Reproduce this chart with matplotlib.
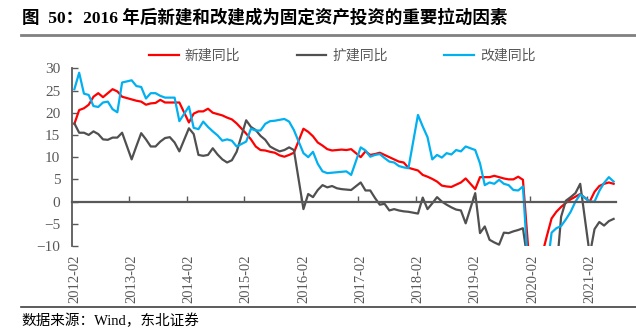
import numpy as np
import pandas as pd
import matplotlib as mpl
mpl.use('Agg')
import matplotlib.pyplot as plt
from matplotlib.lines import Line2D

plt.rcParams['font.family'] = ['Liberation Serif', 'Noto Sans CJK SC']

# monthly cumulative yoy, Feb..Dec each year (no January data)
dates = pd.date_range('2012-02-01', '2021-07-01', freq='MS')
dates = dates[dates.month != 1]

xinjian = [
    17.5, 20.6, 21.0, 21.8, 23.6, 24.4, 23.5, 24.4, 25.3, 24.8, 23.6,  # 2012
    23.0, 22.7, 22.5, 21.8, 22.1, 22.2, 22.9, 22.3, 22.3, 22.3, 22.3,  # 2013
    17.8, 19.8, 20.3, 20.3, 20.9, 20.0, 19.7, 19.4, 18.9, 18.5, 17.6,  # 2014
    15.3, 14.0, 12.4, 11.6, 11.5, 11.2, 11.0, 10.4, 10.1, 10.5, 11.0,  # 2015
    16.4, 15.7, 14.7, 13.3, 12.6, 11.8, 11.5, 11.6, 11.7, 11.6, 11.8,  # 2016
    10.0, 11.3, 10.5, 10.7, 11.0, 10.5, 10.0, 9.5, 9.0, 8.8, 7.6,      # 2017
    7.0, 6.0, 5.6, 5.1, 4.5, 3.6, 3.4, 3.3, 3.8, 4.3, 5.2,             # 2018
    2.8, 5.5, 5.5, 5.5, 5.8, 5.5, 5.2, 5.0, 5.0, 5.6, 4.9,             # 2019
    -23.0, -17.0, -12.0, -7.8, -3.8, -2.3, -1.2, -0.3, 0.5, 1.1, 1.7,  # 2020
    0.0, 2.2, 3.5, 4.0, 4.3, 4.0,                                      # 2021
]
kuojian = [
    17.6, 15.5, 15.5, 15.0, 15.8, 15.2, 14.0, 13.9, 14.4, 14.4, 15.5,
    9.5, 12.5, 15.4, 14.0, 12.4, 12.4, 13.5, 14.3, 14.5, 13.3, 11.3,
    16.5, 15.2, 10.5, 10.3, 10.5, 12.0, 10.6, 9.5, 8.8, 9.3, 11.2,
    18.3, 16.8, 16.1, 14.8, 13.9, 12.4, 11.8, 11.3, 11.6, 12.2, 11.6,
    -1.7, 1.7, 1.0, 2.6, 3.7, 3.2, 3.5, 3.0, 2.8, 2.7, 2.6,
    4.3, 2.5, 2.5, 0.8, -0.7, -0.5, -2.0, -1.7, -2.0, -2.2, -2.3,
    -2.7, 0.9, -1.7, -0.4, 1.0, 0.0, -0.7, -1.3, -1.8, -2.0, -4.9,
    1.9, -7.1, -5.6, -8.6, -9.2, -9.7, -7.0, -7.1, -6.7, -6.4, -6.0,
    -21.0, -25.0, -22.0, -19.0, -17.0, -16.0, -3.4, 0.2, 1.0, 1.9, 4.0,
    -12.0, -6.2, -4.6, -5.4, -4.4, -3.9,
]
gaijian = [
    25.3, 29.0, 24.3, 24.0, 21.5, 21.3, 22.3, 22.5, 20.8, 20.1, 26.8,
    27.3, 26.0, 25.8, 23.2, 24.4, 24.4, 23.8, 23.4, 23.4, 23.4, 18.1,
    21.4, 16.6, 16.3, 18.0, 16.8, 15.8, 14.9, 13.7, 14.0, 13.7, 12.4,
    13.5, 16.4, 16.0, 16.0, 17.5, 18.1, 18.2, 18.4, 18.6, 18.0, 16.1,
    10.9, 10.0, 11.2, 8.5, 6.8, 6.4, 6.5, 6.6, 6.7, 6.8, 6.0,
    12.2, 11.5, 10.1, 10.5, 10.7, 9.8, 9.0, 8.8, 8.0, 7.7, 7.5,
    19.5, 16.9, 14.5, 9.5, 10.5, 9.9, 10.9, 10.6, 11.6, 11.3, 12.4,
    11.6, 8.6, 3.7, 4.3, 4.0, 4.9, 4.0, 3.7, 2.6, 2.5, 3.4,
    -31.0, -24.0, -20.0, -15.8, -7.0, -6.0, -5.5, -4.0, -2.3, 0.0, 1.6,
    0.0, 0.0, 2.4, 4.2, 5.5, 4.5,
]
series_names = ['新建同比', '扩建同比', '改建同比']
tick_labels = ['2012-02', '2013-02', '2014-02', '2015-02', '2016-02',
               '2017-02', '2018-02', '2019-02', '2020-02', '2021-02']

# x position = months since 2012-02 (date axis, gaps at January)
pos = (dates.year - 2012) * 12 + dates.month - 2
tick_pos = [(int(s[:4]) - 2012) * 12 for s in tick_labels]

grey = '#595959'
fig = plt.figure(figsize=(6.36, 3.32), dpi=100)
ax = fig.add_axes([72/636, 1-246/332, (616-72)/636, (246-68.3)/332])

l1, = ax.plot(pos, xinjian, color='#FF0000', lw=1.6)
l2, = ax.plot(pos, kuojian, color='#505050', lw=1.6)
l3, = ax.plot(pos, gaijian, color='#00B0F0', lw=1.6)

ax.set_xlim(-0.5, 113.5)
ax.set_ylim(-10, 30)
ax.set_yticks(range(-10, 31, 5))
for s in ['top', 'right']:
    ax.spines[s].set_visible(False)
ax.spines['left'].set_color(grey)
ax.spines['left'].set_linewidth(1.3)
ax.spines['bottom'].set_position(('data', 0))
ax.spines['bottom'].set_color(grey)
ax.spines['bottom'].set_linewidth(1.6)
ax.tick_params(axis='y', direction='in', length=4, width=1, color=grey,
               labelcolor=grey, labelsize=11, pad=8.5)
ax.set_xticks([p - 0.5 for p in tick_pos[1:]])
ax.set_xticklabels([])
ax.tick_params(axis='x', direction='in', length=4, width=1, color=grey)

sec = ax.secondary_xaxis('bottom')
sec.set_xticks(tick_pos, labels=tick_labels)
sec.tick_params(length=0, pad=6, labelrotation=90, labelcolor=grey, labelsize=10.5)
sec.spines['bottom'].set_visible(False)

fig.legend([l1, l2, l3], series_names, loc='center', ncol=3,
           bbox_to_anchor=(342/636, 1-56/332), frameon=False, fontsize=10,
           labelcolor=grey, handlelength=2.15, handletextpad=0.4,
           columnspacing=4.1, borderpad=0)

fig.text(22/636, 1-18/332, '图  50：2016 年后新建和改建成为固定资产投资的重要拉动因素',
         fontsize=12.6, fontweight='bold', ha='left', va='center')
fig.add_artist(Line2D([21/636, 1], [1-35/332]*2, color='#808080', lw=2))
fig.add_artist(Line2D([21/636, 1], [1-307/332]*2, color='#404040', lw=1.2))
fig.text(21/636, 1-320.5/332, '数据来源：Wind，东北证券', fontsize=10.5,
         ha='left', va='center')

fig.savefig('out.png', dpi=100)
